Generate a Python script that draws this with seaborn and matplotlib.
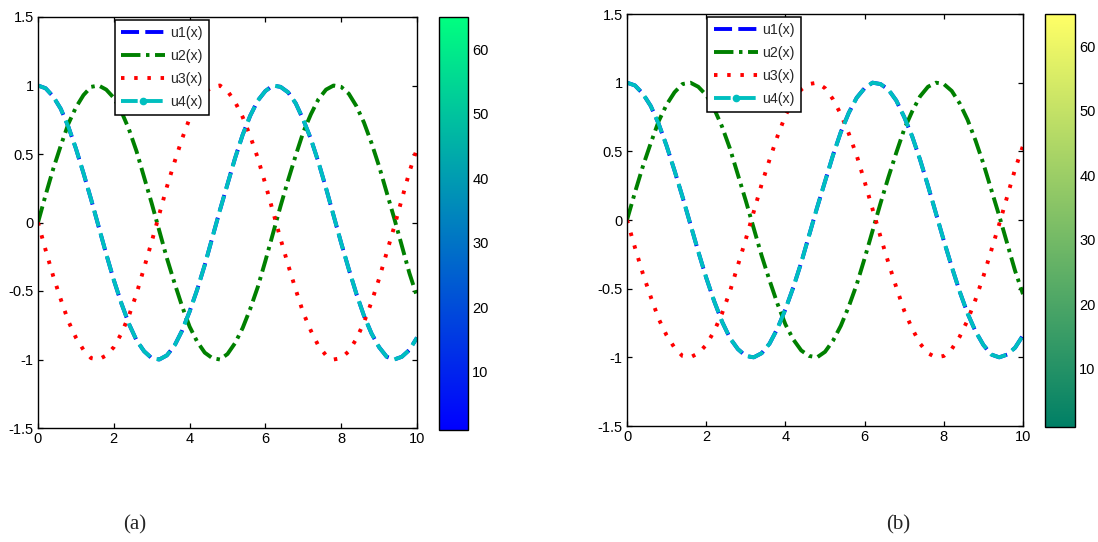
import numpy as np
import pandas as pd
import matplotlib
import matplotlib.pyplot as plt
from matplotlib.lines import Line2D
import seaborn as sns

sns.set_theme(style="white")
plt.rcParams["font.family"] = ["Liberation Sans", "DejaVu Sans"]
plt.rcParams["lines.scale_dashes"] = False
plt.rcParams["lines.dash_capstyle"] = "butt"

# values, x step 0.2
x_vals = [0.0, 0.2, 0.4, 0.6, 0.8, 1.0, 1.2, 1.4, 1.6, 1.8, 2.0, 2.2, 2.4, 2.6, 2.8,
          3.0, 3.2, 3.4, 3.6, 3.8, 4.0, 4.2, 4.4, 4.6, 4.8, 5.0, 5.2, 5.4, 5.6, 5.8,
          6.0, 6.2, 6.4, 6.6, 6.8, 7.0, 7.2, 7.4, 7.6, 7.8, 8.0, 8.2, 8.4, 8.6, 8.8,
          9.0, 9.2, 9.4, 9.6, 9.8, 10.0]
u1 = [1.00, 0.98, 0.92, 0.83, 0.70, 0.54, 0.36, 0.17, -0.03, -0.23, -0.42, -0.59,
      -0.74, -0.86, -0.94, -0.99, -1.00, -0.97, -0.90, -0.79, -0.65, -0.49, -0.31,
      -0.11, 0.09, 0.28, 0.47, 0.64, 0.78, 0.89, 0.96, 1.00, 0.99, 0.95, 0.87, 0.75,
      0.61, 0.44, 0.25, 0.05, -0.15, -0.34, -0.52, -0.68, -0.81, -0.91, -0.98, -1.00,
      -0.98, -0.93, -0.84]
u2 = [0.00, 0.20, 0.39, 0.56, 0.72, 0.84, 0.93, 0.99, 1.00, 0.97, 0.91, 0.81, 0.68,
      0.52, 0.33, 0.14, -0.06, -0.26, -0.44, -0.61, -0.76, -0.87, -0.95, -0.99,
      -1.00, -0.96, -0.88, -0.77, -0.63, -0.47, -0.28, -0.08, 0.12, 0.31, 0.49, 0.66,
      0.79, 0.90, 0.97, 1.00, 0.99, 0.94, 0.85, 0.73, 0.58, 0.41, 0.22, 0.03, -0.17,
      -0.37, -0.54]
u3 = [0.00, -0.20, -0.39, -0.56, -0.72, -0.84, -0.93, -0.99, -1.00, -0.97, -0.91,
      -0.81, -0.68, -0.52, -0.33, -0.14, 0.06, 0.26, 0.44, 0.61, 0.76, 0.87, 0.95,
      0.99, 1.00, 0.96, 0.88, 0.77, 0.63, 0.47, 0.28, 0.08, -0.12, -0.31, -0.49,
      -0.66, -0.79, -0.90, -0.97, -1.00, -0.99, -0.94, -0.85, -0.73, -0.58, -0.41,
      -0.22, -0.03, 0.17, 0.37, 0.54]
u4 = [1.00, 0.98, 0.92, 0.83, 0.70, 0.54, 0.36, 0.17, -0.03, -0.23, -0.42, -0.59,
      -0.74, -0.86, -0.94, -0.99, -1.00, -0.97, -0.90, -0.79, -0.65, -0.49, -0.31,
      -0.11, 0.09, 0.28, 0.47, 0.64, 0.78, 0.89, 0.96, 1.00, 0.99, 0.95, 0.87, 0.75,
      0.61, 0.44, 0.25, 0.05, -0.15, -0.34, -0.52, -0.68, -0.81, -0.91, -0.98, -1.00,
      -0.98, -0.93, -0.84]

series_names = ["u1(x)", "u2(x)", "u3(x)", "u4(x)"]
series_values = [u1, u2, u3, u4]
x_ticks = [0, 2, 4, 6, 8, 10]
y_ticks = [-1.5, -1, -0.5, 0, 0.5, 1, 1.5]
y_tick_labels = ["-1.5", "-1", "-0.5", "0", "0.5", "1", "1.5"]
cbar_ticks = [10, 20, 30, 40, 50, 60]
cbar_range = (1, 65)

colors = {"u1(x)": "#0000ff", "u2(x)": "#008000", "u3(x)": "#ff0000", "u4(x)": "#00bfbf"}
styles = {
    "u1(x)": (0, (12, 5)),
    "u2(x)": (0, (12, 4, 2.5, 4)),
    "u3(x)": (0, (2.5, 7)),
    "u4(x)": (0.6, (12, 5)),
}
LW = 2.8

df = pd.concat(
    [pd.DataFrame({"x": x_vals, "y": vals, "name": name})
     for name, vals in zip(series_names, series_values)],
    ignore_index=True,
)

W, H = 1098, 542
fig = plt.figure(figsize=(W / 100, H / 100), dpi=100)
fig.patch.set_facecolor("white")


def px_rect(x0, y0, x1, y1):
    return [x0 / W, 1 - y1 / H, (x1 - x0) / W, (y1 - y0) / H]


panels = [
    (px_rect(38, 17, 417, 428), px_rect(439, 17, 468, 430), "winter", (135, 525), "(a)"),
    (px_rect(627, 14, 1023, 426), px_rect(1045, 14, 1075, 427), "summer", (898, 525), "(b)"),
]

# legend handles (u4 shows a dot between two dashes)
handles = [
    Line2D([], [], color=colors["u1(x)"], linestyle=(0, (13, 4.5)), linewidth=LW),
    Line2D([], [], color=colors["u2(x)"], linestyle=(0, (14, 4, 2.5, 4)), linewidth=LW),
    Line2D([], [], color=colors["u3(x)"], linestyle=(0, (2.5, 7)), linewidth=LW),
    Line2D([], [], color=colors["u4(x)"], linestyle=(0, (12, 6)), linewidth=LW,
           marker="o", markersize=4.5),
]

for ax_rect, cax_rect, cmap, cap_pos, caption in panels:
    ax = fig.add_axes(ax_rect)
    for name in series_names:
        sns.lineplot(
            data=df[df["name"] == name],
            x="x", y="y",
            color=colors[name],
            linestyle=styles[name],
            linewidth=LW,
            estimator=None, errorbar=None, sort=False,
            ax=ax,
        )
    ax.set_xlim(0, 10)
    ax.set_ylim(-1.5, 1.5)
    ax.set_xticks(x_ticks)
    ax.set_xticklabels([str(t) for t in x_ticks])
    ax.set_yticks(y_ticks)
    ax.set_yticklabels(y_tick_labels)
    ax.set_xlabel("")
    ax.set_ylabel("")
    ax.tick_params(direction="in", length=3.5, width=0.9, top=True, right=True,
                   bottom=True, left=True, labelsize=10.5, pad=3, colors="black")
    for sp in ax.spines.values():
        sp.set_visible(True)
        sp.set_color("black")
        sp.set_linewidth(1.0)
    ax.set_facecolor("white")
    leg = ax.legend(handles, series_names, loc="upper left",
                    bbox_to_anchor=(0.196, 1.0), fontsize=10.2, numpoints=1,
                    handlelength=3.1, handletextpad=0.3, labelspacing=0.62,
                    borderpad=0.45, borderaxespad=0.2, frameon=True, fancybox=False,
                    framealpha=1)
    leg.get_frame().set_edgecolor("black")
    leg.get_frame().set_linewidth(1.1)

    cax = fig.add_axes(cax_rect)
    sm = matplotlib.cm.ScalarMappable(
        norm=matplotlib.colors.Normalize(*cbar_range), cmap=cmap)
    cb = fig.colorbar(sm, cax=cax, ticks=cbar_ticks)
    cb.outline.set_edgecolor("black")
    cb.outline.set_linewidth(1.0)
    cax.tick_params(direction="in", length=3.5, width=0.9, left=True, right=True,
                    labelsize=10.5, pad=3, colors="black")

    fig.text(cap_pos[0] / W, 1 - cap_pos[1] / H, caption,
             family=["Liberation Serif", "DejaVu Serif"], fontsize=15,
             ha="center", va="center")

fig.savefig("out.png", dpi=100, facecolor="white")
